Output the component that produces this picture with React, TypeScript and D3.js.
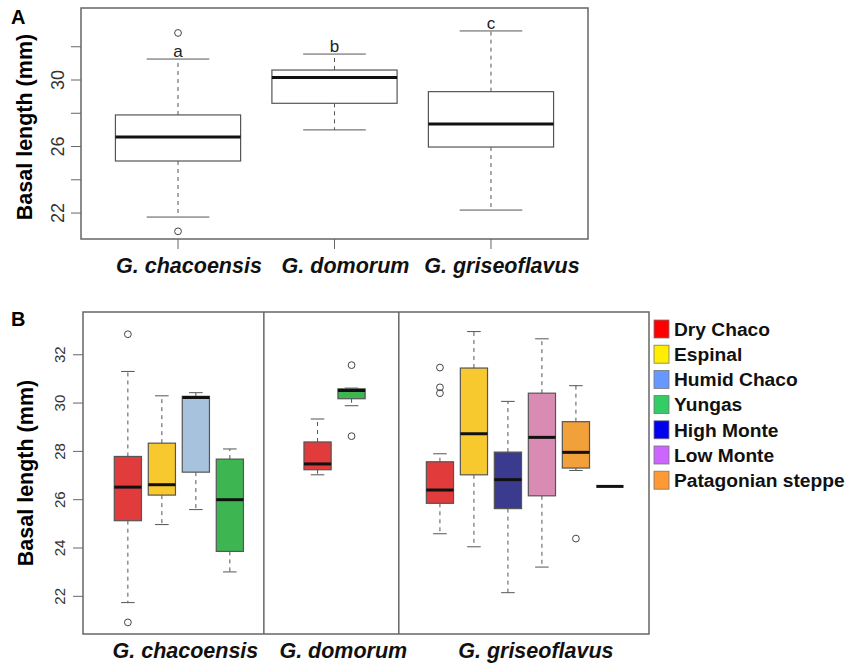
import React from 'react';
import * as d3 from 'd3';

// Panel A: one box per species (whisker low, Q1, median, Q3, whisker high)
const speciesA = ['G. chacoensis', 'G. domorum', 'G. griseoflavus'];
const statsA = [
  [21.76, 25.13, 26.57, 27.9, 31.26],
  [27.0, 28.6, 30.15, 30.6, 31.56],
  [22.18, 25.97, 27.35, 29.3, 32.95],
];
const outliersA = [[32.83, 20.9], [], []];
const lettersA = ['a', 'b', 'c'];

// Panel B: one box per ecoregion inside each species
const regions = ['Dry Chaco', 'Espinal', 'Humid Chaco', 'Yungas', 'High Monte', 'Low Monte', 'Patagonian steppe'];
const legendColors = ['#ff0000', '#ffee00', '#6699ff', '#33cc66', '#0000ee', '#cc66ff', '#ff9933'];
const boxColors = ['#e23b3b', '#f7c92f', '#a6c2dc', '#3db551', '#3a3a8e', '#d98bb3', '#f2a03a'];

const chacoensisRegions = ['Dry Chaco', 'Espinal', 'Humid Chaco', 'Yungas'];
const chacoensisStats = [
  [21.74, 25.13, 26.52, 27.79, 31.31],
  [24.97, 26.19, 26.62, 28.34, 30.3],
  [25.59, 27.14, 30.23, 30.28, 30.43],
  [23.01, 23.86, 26.0, 27.68, 28.1],
];
const chacoensisOutliers = [[32.85, 20.92], [], [], []];

const domorumRegions = ['Dry Chaco', 'Yungas'];
const domorumStats = [
  [27.03, 27.24, 27.48, 28.39, 29.34],
  [29.89, 30.18, 30.52, 30.59, 30.62],
];
const domorumOutliers = [[], [31.57, 28.63]];

const griseoflavusRegions = ['Dry Chaco', 'Espinal', 'High Monte', 'Low Monte', 'Patagonian steppe', 'Humid Chaco'];
const griseoflavusStats = [
  [24.59, 25.85, 26.4, 27.57, 27.9],
  [24.05, 27.03, 28.73, 31.45, 32.96],
  [22.15, 25.63, 26.83, 27.97, 30.07],
  [23.21, 26.16, 28.58, 30.41, 32.66],
  [27.21, 27.31, 27.96, 29.23, 30.72],
  [26.55, 26.55, 26.55, 26.55, 26.55],
];
const griseoflavusOutliers = [[31.47, 30.65, 30.41], [], [], [], [24.39], []];

const ticksA = [22, 24, 26, 28, 30, 32];
const tickLabelsA = [22, 26, 30];
const ticksB = [22, 24, 26, 28, 30, 32];

const groupsB = [
  { name: 'G. chacoensis', regions: chacoensisRegions, stats: chacoensisStats, outliers: chacoensisOutliers },
  { name: 'G. domorum', regions: domorumRegions, stats: domorumStats, outliers: domorumOutliers },
  { name: 'G. griseoflavus', regions: griseoflavusRegions, stats: griseoflavusStats, outliers: griseoflavusOutliers },
];

// layout (in slot units along panel B's x axis)
const groupBounds = [0, 5.32, 9.29, 16.65];
const groupFirst = [1.32, 6.9, 10.5];

const FONT = '"Liberation Sans", Arial, Helvetica, sans-serif';
const FRAME = '#666';
const LINE = '#555';

type BoxProps = {
  x: number;
  w: number;
  y: d3.ScaleLinear<number, number>;
  s: number[];
  out: number[];
  fill: string;
  cap: number;
  medW: number;
};

const Box = ({ x, w, y, s, out, fill, cap, medW }: BoxProps) => {
  const [lo, q1, med, q3, hi] = s;
  const single = q1 === q3;
  return (
    <g>
      {!single && (
        <>
          <line x1={x} x2={x} y1={y(q3)} y2={y(hi)} stroke={LINE} strokeDasharray="4,4" />
          <line x1={x} x2={x} y1={y(q1)} y2={y(lo)} stroke={LINE} strokeDasharray="4,4" />
          <line x1={x - cap / 2} x2={x + cap / 2} y1={y(hi)} y2={y(hi)} stroke={LINE} />
          <line x1={x - cap / 2} x2={x + cap / 2} y1={y(lo)} y2={y(lo)} stroke={LINE} />
          <rect x={x - w / 2} y={y(q3)} width={w} height={y(q1) - y(q3)} fill={fill} stroke={LINE} strokeWidth={1.2} />
        </>
      )}
      <line x1={x - w / 2} x2={x + w / 2} y1={y(med)} y2={y(med)} stroke="#111" strokeWidth={medW} />
      {out.map((o, i) => (
        <circle key={i} cx={x} cy={y(o)} r={3.4} fill="none" stroke="#444" strokeWidth={1} />
      ))}
    </g>
  );
};

const App = () => {
  // Panel A scales
  const left = 81;
  const xA = d3.scalePoint<string>().domain(speciesA).range([left, 588]).padding(0.62);
  const yA = d3.scaleLinear().domain([20.44, 34.33]).range([239, 8]);
  const bwA = xA.step() * 0.8;

  // Panel B scales
  const xB = d3.scaleLinear().domain([0, 16.65]).range([83, 649]);
  const yB = d3.scaleLinear().domain([20.44, 33.77]).range([634, 312]);
  const unit = xB(1) - xB(0);
  const bwB = unit * 0.8;

  return (
    <svg width={847} height={665} style={{ position: 'absolute', left: 0, top: 0, background: '#fff' }} fontFamily={FONT}>
      {/* ---------- Panel A ---------- */}
      <text x={11} y={24} fontSize={20} fontWeight="bold">A</text>
      <text transform="translate(24,127) rotate(-90)" textAnchor="middle" dy="0.35em" fontSize={21.5} fontWeight="bold">
        Basal length (mm)
      </text>
      {ticksA.map(t => (
        <line key={t} x1={left - 10} x2={left} y1={yA(t)} y2={yA(t)} stroke={FRAME} />
      ))}
      {tickLabelsA.map(t => (
        <text key={t} transform={`translate(58,${yA(t)}) rotate(-90)`} textAnchor="middle" dy="0.35em" fontSize={18} fill="#333">
          {t}
        </text>
      ))}
      {speciesA.map((sp, i) => (
        <g key={sp}>
          <line x1={xA(sp)} x2={xA(sp)} y1={239} y2={249} stroke={FRAME} />
          <Box x={xA(sp)!} w={bwA} y={yA} s={statsA[i]} out={outliersA[i]} fill="#fff" cap={bwA / 2} medW={3} />
          <text x={xA(sp)} y={yA(statsA[i][4]) - 2} textAnchor="middle" fontSize={17} fill="#222">
            {lettersA[i]}
          </text>
          <text x={xA(sp)! + 11} y={273} textAnchor="middle" fontSize={21.5} fontWeight="bold" fontStyle="italic" fill="#111">
            {sp}
          </text>
        </g>
      ))}
      <rect x={left} y={8} width={588 - left} height={239 - 8} fill="none" stroke={FRAME} strokeWidth={1.5} />

      {/* ---------- Panel B ---------- */}
      <text x={11} y={326} fontSize={20} fontWeight="bold">B</text>
      <text transform="translate(25,473) rotate(-90)" textAnchor="middle" dy="0.35em" fontSize={21.5} fontWeight="bold">
        Basal length (mm)
      </text>
      {ticksB.map(t => (
        <g key={t}>
          <line x1={73} x2={83} y1={yB(t)} y2={yB(t)} stroke={FRAME} />
          <text transform={`translate(60,${yB(t)}) rotate(-90)`} textAnchor="middle" dy="0.35em" fontSize={15} fill="#333">
            {t}
          </text>
        </g>
      ))}
      {groupsB.map((g, gi) => (
        <g key={g.name}>
          {g.stats.map((s, i) => {
            const ri = regions.indexOf(g.regions[i]);
            return (
              <Box key={i} x={xB(groupFirst[gi] + i)} w={bwB} y={yB} s={s} out={g.outliers[i]} fill={boxColors[ri]} cap={bwB / 2} medW={3} />
            );
          })}
          <text
            x={xB((groupBounds[gi] + groupBounds[gi + 1]) / 2) + 12}
            y={658}
            textAnchor="middle"
            fontSize={21.5}
            fontWeight="bold"
            fontStyle="italic"
            fill="#111"
          >
            {g.name}
          </text>
        </g>
      ))}
      {groupBounds.slice(1, -1).map(b => (
        <line key={b} x1={xB(b)} x2={xB(b)} y1={312} y2={634} stroke={FRAME} strokeWidth={1.5} />
      ))}
      <rect x={83} y={312} width={649 - 83} height={634 - 312} fill="none" stroke={FRAME} strokeWidth={1.5} />

      {/* legend */}
      {regions.map((r, i) => (
        <g key={r} transform={`translate(654,${329 + i * 25.2})`}>
          <rect x={0} y={-9} width={15} height={18} fill={legendColors[i]} stroke="#777" strokeWidth={0.8} />
          <text x={20} y={0} dy="0.35em" fontSize={19.2} fontWeight="bold" fill="#111">
            {r}
          </text>
        </g>
      ))}
    </svg>
  );
};

export default App;
